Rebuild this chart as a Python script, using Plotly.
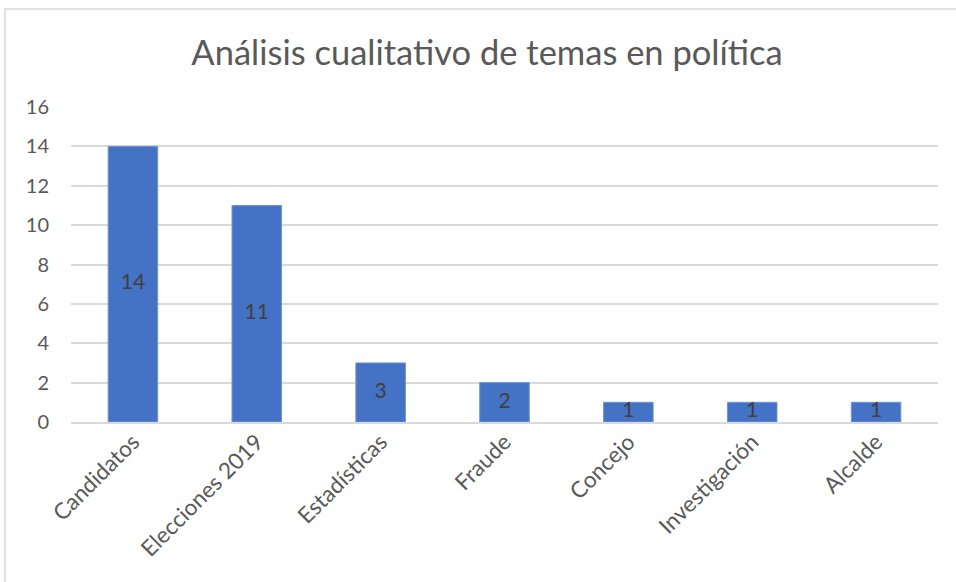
import plotly.graph_objects as go

categories = ["Candidatos", "Elecciones 2019", "Estadísticas", "Fraude", "Concejo", "Investigación", "Alcalde"]
values = [14, 11, 3, 2, 1, 1, 1]
y_ticks = [0, 2, 4, 6, 8, 10, 12, 14, 16]

W, H = 956, 582
L, R, T, B = 71, 938, 107, 422
pw, ph = R - L, B - T
FONT = "Lato, Open Sans, sans-serif"

fig = go.Figure()
fig.add_trace(go.Bar(
    x=categories, y=values,
    marker=dict(color="#4472C4", line=dict(color="#6f93d6", width=1)),
    width=0.4, hoverinfo="skip",
))
fig.add_trace(go.Scatter(
    x=categories, y=[v / 2 for v in values],
    mode="text", text=[str(v) for v in values],
    textposition="middle center",
    textfont=dict(family=FONT, size=21, color="#404040"),
    cliponaxis=False, hoverinfo="skip",
))

fig.update_layout(
    width=W, height=H,
    margin=dict(l=L, r=W - R, t=T, b=H - B),
    paper_bgcolor="white", plot_bgcolor="white",
    title=dict(text="Análisis cualitativo de temas en política",
               x=487 / W, xanchor="center", y=1 - 53 / H, yanchor="middle",
               font=dict(family=FONT, size=34.5, color="#595959")),
    showlegend=False,
    xaxis=dict(tickangle=-45, showgrid=False, showline=True, linecolor="#d9d9d9", linewidth=2,
               ticks="", ticklabelstandoff=-4,
               tickfont=dict(family=FONT, size=22.5, color="#595959")),
    yaxis=dict(range=[0, 16], tickvals=y_ticks, showgrid=True, gridcolor="#d9d9d9", gridwidth=1.5,
               zeroline=False, showline=False, ticks="", ticklabelstandoff=21,
               tickfont=dict(family=FONT, size=20, color="#595959")),
)

# chart border (light gray), top and left edges visible
fig.add_shape(type="rect", xref="paper", yref="paper",
              x0=(5 - L) / pw, x1=(W + 5 - L) / pw,
              y0=-(H + 10 - B) / ph, y1=1 + (T - 9) / ph,
              line=dict(color="#d9d9d9", width=1.5), fillcolor="rgba(0,0,0,0)", layer="below")

fig.write_html("out.html", config={"displayModeBar": False},
               post_script="document.body.style.margin='0';document.body.style.overflow='hidden';")
